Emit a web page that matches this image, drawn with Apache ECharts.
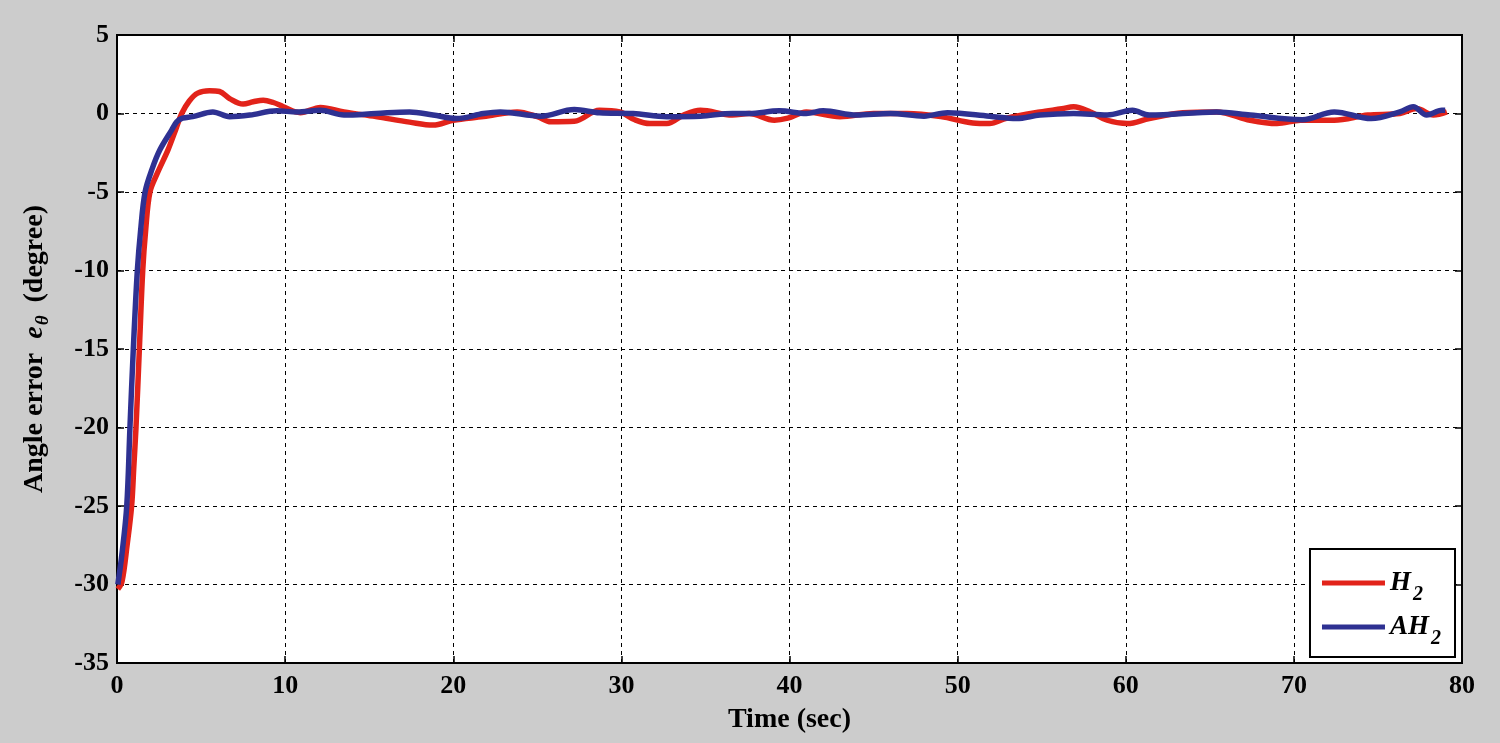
<!DOCTYPE html>
<html>
<head>
<meta charset="utf-8">
<script src="https://cdn.jsdelivr.net/npm/echarts@6/dist/echarts.min.js"></script>
<style>
html,body{margin:0;padding:0;background:#cccccc;}
#c{width:1500px;height:743px;}
</style>
</head>
<body>
<div id="c"></div>
<script>
// ---- data ----
const seriesNames = ['H2', 'AH2'];
const xTicks = [0, 10, 20, 30, 40, 50, 60, 70, 80];
const yTicks = [-35, -30, -25, -20, -15, -10, -5, 0, 5];

const timeH2 = [0.05,0.3,0.6,0.87,1.0,1.13,1.33,1.53,1.7,1.96,2.4,3.04,3.5,3.85,4.3,4.8,5.5,6.1,6.7,7.5,8.1,8.7,9.3,9.9,10.9,12.1,13.5,15.4,17.4,18.8,20,21.8,23.8,25,25.8,27.2,28.7,29.9,30.8,31.7,32.7,33.7,34.7,36.6,37.6,39.1,39.9,41,43,45,47,49,50.9,51.9,52.9,54.9,56.2,56.9,57.9,58.9,60.1,61.4,63.4,65.4,67.4,69,70.4,72.4,74.4,76.3,77.3,78.3,79.1];
const errH2 = [-30.3,-29.8,-27.5,-25,-22.5,-20,-15,-10,-7.5,-5,-3.8,-2.3,-1.0,0,0.8,1.3,1.45,1.4,0.95,0.6,0.75,0.85,0.7,0.43,0.05,0.39,0.1,-0.2,-0.55,-0.74,-0.43,-0.2,0.1,-0.2,-0.53,-0.5,0.2,0.1,-0.4,-0.64,-0.64,-0.1,0.2,-0.1,0,-0.43,-0.3,0.1,-0.2,0,0,-0.2,-0.6,-0.64,-0.3,0.1,0.3,0.43,0.1,-0.43,-0.64,-0.32,0.05,0.1,-0.43,-0.64,-0.43,-0.43,-0.1,0,0.32,-0.1,0.1];

const timeAH2 = [0.05,0.3,0.58,0.77,0.97,1.21,1.4,1.67,2.1,2.56,3.25,3.55,3.9,4.5,5.7,6.7,7.9,9.5,10.7,12.1,13.5,15.4,17.4,18.8,20.2,21.8,22.8,25.2,27.2,28.7,30.7,32.7,34.7,36.6,37.6,39.4,41,42,44,46,48,49.4,51.9,53.5,54.9,56.9,58.9,60.4,61.4,65.4,67.4,70.5,72.4,74.6,76.3,77.1,77.9,78.8,79.0];
const errAH2 = [-30,-28,-25,-20,-15,-10,-7.5,-5,-3.5,-2.3,-1.06,-0.53,-0.3,-0.2,0.1,-0.2,-0.1,0.17,0.1,0.2,-0.1,0,0.1,-0.1,-0.32,0,0.1,-0.17,0.25,0.05,0,-0.2,-0.17,0,0,0.17,0,0.17,-0.1,0,-0.17,0.05,-0.17,-0.32,-0.1,0,-0.1,0.2,-0.1,0.1,-0.1,-0.4,0.1,-0.32,0.1,0.43,-0.1,0.2,0.2];

const zip = (a, b) => a.map((v, i) => [v, b[i]]);

const FONT = '"Liberation Serif", "DejaVu Serif", serif';
const chart = echarts.init(document.getElementById('c'));

const gridLine = { show: true, lineStyle: { color: '#000', width: 1, type: [4, 4] } };
const boxLine = { show: true, onZero: false, lineStyle: { color: '#000', width: 2 } };
const tick = { show: true, inside: true, length: 7, lineStyle: { color: '#000', width: 1.5 } };

chart.setOption({
  backgroundColor: '#cccccc',
  animation: false,
  grid: { left: 117, right: 38, top: 35, bottom: 80, show: true, backgroundColor: '#ffffff', borderColor: '#000', borderWidth: 2 },
  legend: {
    data: seriesNames,
    orient: 'vertical',
    right: 45,
    top: 549,
    backgroundColor: '#ffffff',
    borderColor: '#000',
    borderWidth: 2,
    padding: [12, 14, 8, 12],
    itemWidth: 63,
    itemHeight: 5,
    itemGap: 0,
    icon: 'rect',
    formatter: n => n === 'H2' ? '{m|H}{s|2}  ' : '{m|AH}{s|2}',
    textStyle: {
      rich: {
        m: { fontFamily: FONT, fontWeight: 'bold', fontStyle: 'italic', fontSize: 27, color: '#000', lineHeight: 35 },
        s: { fontFamily: FONT, fontWeight: 'bold', fontStyle: 'italic', fontSize: 20, color: '#000', lineHeight: 35, padding: [24, 0, 0, 2] }
      }
    }
  },
  xAxis: [{
    type: 'value', min: xTicks[0], max: xTicks[xTicks.length - 1], interval: 10,
    name: 'Time (sec)', nameLocation: 'middle', nameGap: 43,
    nameTextStyle: { fontFamily: FONT, fontWeight: 'bold', fontSize: 28, color: '#000' },
    axisLine: boxLine,
    axisTick: tick,
    axisLabel: { fontFamily: FONT, fontWeight: 'bold', fontSize: 26, color: '#000', margin: 10 },
    splitLine: gridLine
  }, {
    type: 'value', position: 'top', min: xTicks[0], max: xTicks[xTicks.length - 1], interval: 10,
    axisLine: boxLine,
    axisTick: tick,
    axisLabel: { show: false }, splitLine: { show: false }
  }],
  yAxis: [{
    type: 'value', min: yTicks[0], max: yTicks[yTicks.length - 1], interval: 5,
    name: 'Angle error  {i|e}{s|θ} (degree)', nameLocation: 'middle', nameGap: 64, nameRotate: 90,
    nameTextStyle: {
      fontFamily: FONT, fontWeight: 'bold', fontSize: 28, color: '#000',
      rich: {
        i: { fontFamily: FONT, fontWeight: 'bold', fontStyle: 'italic', fontSize: 28, color: '#000' },
        s: { fontFamily: FONT, fontWeight: 'bold', fontStyle: 'italic', fontSize: 19, color: '#000', padding: [18, 6, 0, 1] }
      }
    },
    axisLine: boxLine,
    axisTick: tick,
    axisLabel: { fontFamily: FONT, fontWeight: 'bold', fontSize: 26, color: '#000', margin: 8 },
    splitLine: gridLine
  }, {
    type: 'value', position: 'right', min: yTicks[0], max: yTicks[yTicks.length - 1], interval: 5,
    axisLine: boxLine,
    axisTick: tick,
    axisLabel: { show: false }, splitLine: { show: false }
  }],
  series: [{
    name: 'H2', type: 'line', xAxisIndex: 0, yAxisIndex: 0,
    data: zip(timeH2, errH2), showSymbol: false, smooth: 0.35,
    lineStyle: { color: '#e2231a', width: 5.5 }, itemStyle: { color: '#e2231a' }, z: 3
  }, {
    name: 'AH2', type: 'line', xAxisIndex: 0, yAxisIndex: 0,
    data: zip(timeAH2, errAH2), showSymbol: false, smooth: 0.35,
    lineStyle: { color: '#2e3192', width: 5.5 }, itemStyle: { color: '#2e3192' }, z: 4
  }]
});
</script>
</body>
</html>
